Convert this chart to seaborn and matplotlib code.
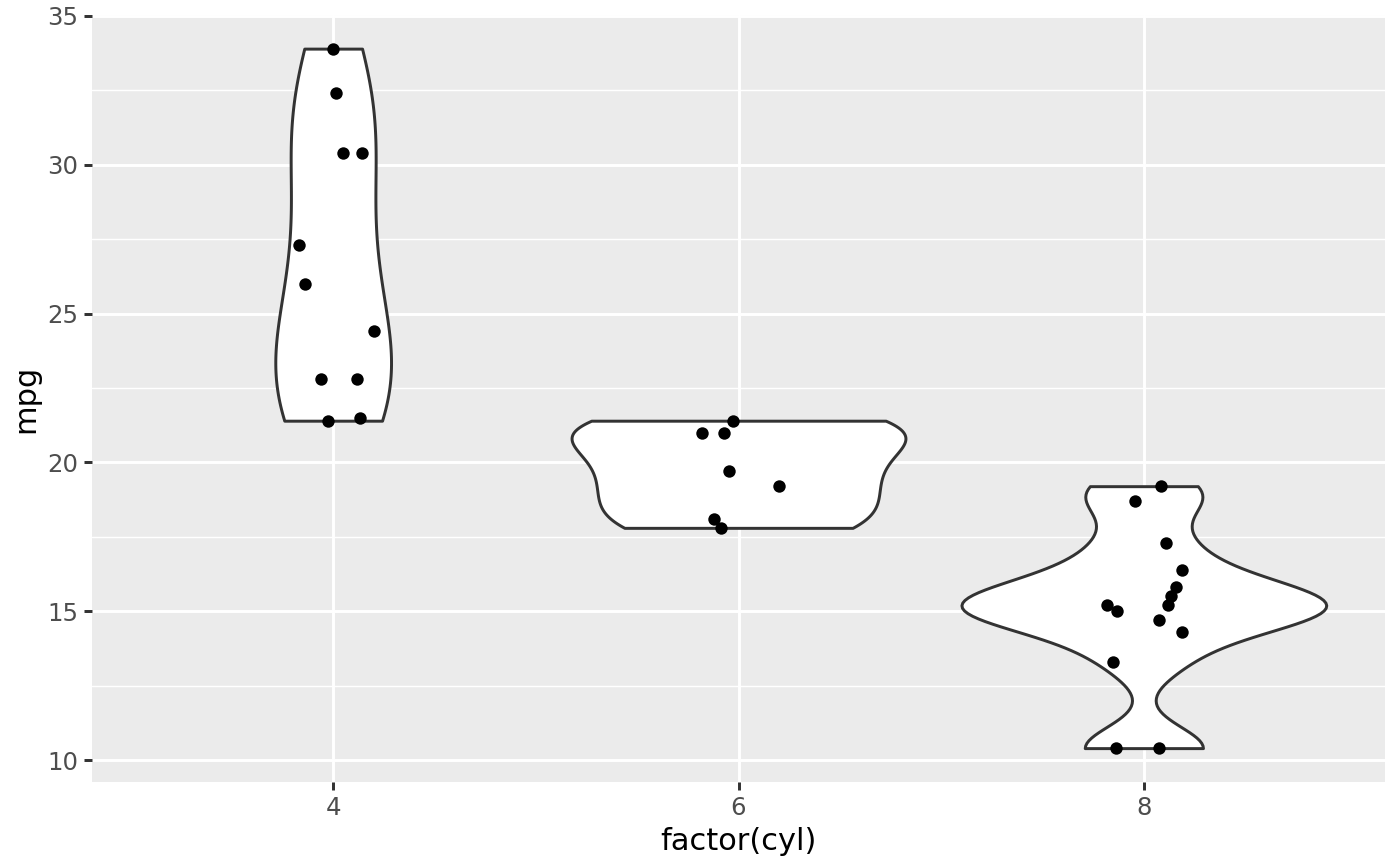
import numpy as np
import pandas as pd
import matplotlib
matplotlib.use("Agg")
import matplotlib.pyplot as plt
from matplotlib.ticker import MultipleLocator
import seaborn as sns

# mtcars mpg by number of cylinders
cyl_levels = [4, 6, 8]
mpg_4 = [22.8, 24.4, 22.8, 32.4, 30.4, 33.9, 21.5, 27.3, 26.0, 30.4, 21.4]
mpg_6 = [21.0, 21.0, 21.4, 18.1, 19.2, 17.8, 19.7]
mpg_8 = [18.7, 14.3, 16.4, 17.3, 15.2, 10.4, 10.4, 14.7, 15.5, 15.2, 13.3, 19.2, 15.8, 15.0]

# jittered x positions of the points
jit_4 = [3.94, 4.20, 4.12, 4.015, 4.05, 4.00, 4.13, 3.83, 3.86, 4.14, 3.975]
jit_6 = [5.82, 5.93, 5.975, 5.88, 6.20, 5.915, 5.955]
jit_8 = [7.955, 8.19, 8.19, 8.11, 7.82, 7.865, 8.075, 8.075, 8.135, 8.12, 7.85, 8.085, 8.16, 7.87]

groups = [mpg_4, mpg_6, mpg_8]
jitters = [jit_4, jit_6, jit_8]

points = pd.DataFrame({
    "cyl": np.concatenate(jitters),
    "mpg": np.concatenate(groups),
})


def nrd0_adjust(v):
    # ggplot's bw.nrd0 expressed as a multiplier of scipy's scott factor
    v = np.asarray(v)
    sd = v.std(ddof=1)
    iqr = np.subtract(*np.percentile(v, [75, 25]))
    return 0.9 * min(sd, iqr / 1.34) / sd


def kde_peak(v, adjust, gridsize=100):
    v = np.asarray(v)
    h = adjust * len(v) ** -0.2 * v.std(ddof=1)
    grid = np.linspace(v.min(), v.max(), gridsize)
    dens = np.exp(-0.5 * ((grid[:, None] - v[None, :]) / h) ** 2).sum(1)
    return (dens / (len(v) * h * np.sqrt(2 * np.pi))).max()


adjusts = [nrd0_adjust(g) for g in groups]
peaks = [kde_peak(g, a) for g, a in zip(groups, adjusts)]
max_peak = max(peaks)

sns.set_style("darkgrid", {
    "axes.facecolor": "#EBEBEB",
    "grid.color": "white",
    "axes.edgecolor": "#EBEBEB",
})
plt.rcParams["font.family"] = ["DejaVu Sans"]

fig, ax = plt.subplots(figsize=(7, 4.33), dpi=200)
fig.subplots_adjust(left=0.0657, right=0.9893, top=0.9827, bottom=0.0966)

for level, vals, adj, pk in zip(cyl_levels, groups, adjusts, peaks):
    df = pd.DataFrame({"cyl": [level] * len(vals), "mpg": vals})
    sns.violinplot(
        data=df, x="cyl", y="mpg", native_scale=True, ax=ax,
        cut=0, inner=None, bw_method="scott", bw_adjust=adj,
        width=1.8 * pk / max_peak, color="white", saturation=1,
        linecolor="#333333", linewidth=1.07, gridsize=100,
    )

sns.scatterplot(data=points, x="cyl", y="mpg", ax=ax, color="black",
                s=20, linewidth=0, zorder=5)

ax.set_xlim(2.81, 9.19)
ax.set_ylim(9.25, 35.03)
ax.set_xticks(cyl_levels)
ax.set_xticklabels([str(c) for c in cyl_levels])
ax.set_yticks([10, 15, 20, 25, 30, 35])
ax.yaxis.set_minor_locator(MultipleLocator(2.5))

ax.set_axisbelow(True)
ax.grid(which="major", color="white", linewidth=1.07)
ax.grid(which="minor", axis="y", color="white", linewidth=0.53)
ax.grid(which="minor", axis="x", visible=False)
for s in ax.spines.values():
    s.set_visible(False)

ax.tick_params(which="major", length=2.75, width=1.07, color="#333333",
               labelsize=8.8, labelcolor="#4D4D4D", pad=2.2, left=True, bottom=True)
ax.tick_params(which="minor", length=0)

ax.set_xlabel("factor(cyl)", fontsize=11, color="black", labelpad=2.5)
ax.set_ylabel("mpg", fontsize=11, color="black", labelpad=2.5)

fig.savefig("out.png", dpi=200)
